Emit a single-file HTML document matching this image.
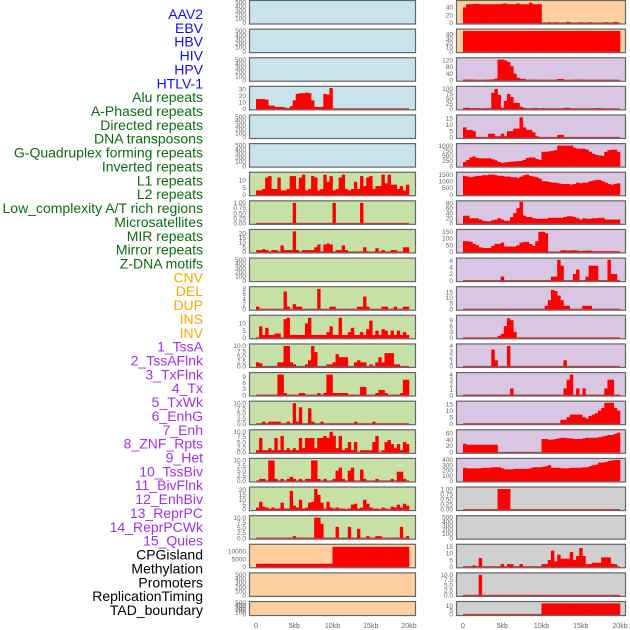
<!DOCTYPE html>
<html><head><meta charset="utf-8"><style>
html,body{margin:0;padding:0;background:#fff;width:630px;height:630px;overflow:hidden}
svg{display:block;font-family:"Liberation Sans",sans-serif}
</style></head><body>
<svg id="c" width="630" height="630"></svg>
<script>
const labels=["AAV2","EBV","HBV","HIV","HPV","HTLV-1","Alu repeats","A-Phased repeats","Directed repeats","DNA transposons","G-Quadruplex forming repeats","Inverted repeats","L1 repeats","L2 repeats","Low_complexity A/T rich regions","Microsatellites","MIR repeats","Mirror repeats","Z-DNA motifs","CNV","DEL","DUP","INS","INV","1_TssA","2_TssAFlnk","3_TxFlnk","4_Tx","5_TxWk","6_EnhG","7_Enh","8_ZNF_Rpts","9_Het","10_TssBiv","11_BivFlnk","12_EnhBiv","13_ReprPC","14_ReprPCWk","15_Quies","CPGisland","Methylation","Promoters","ReplicationTiming","TAD_boundary"];
const labelColors=["#1010ee","#1010ee","#1010ee","#1010ee","#1010ee","#1010ee","#0a6e0a","#0a6e0a","#0a6e0a","#0a6e0a","#0a6e0a","#0a6e0a","#0a6e0a","#0a6e0a","#0a6e0a","#0a6e0a","#0a6e0a","#0a6e0a","#0a6e0a","#ffa500","#ffa500","#ffa500","#ffa500","#ffa500","#a030f0","#a030f0","#a030f0","#a030f0","#a030f0","#a030f0","#a030f0","#a030f0","#a030f0","#a030f0","#a030f0","#a030f0","#a030f0","#a030f0","#a030f0","#000","#000","#000","#000","#000"];
const xTickLabels=["0","5kb","10kb","15kb","20kb"];
const xTickVals=[0,5,10,15,20];
const E=[];
const tEmpty=["0","100","200","300","400","500"];
const tDec=["0.00","0.25","0.50","0.75","1.00"];
const t25=["0.0","2.5","5.0","7.5","10.0"];
// left column
const hiv=[15,15,15,14,5,5,3,3,3,2,1,4,13,23,24,24,25,24,13,3,3,3,23,22,32];
const alu=[3,3,4,12,13,4,4,12,3,3,4,13,13,4,12,14,3,4,13,12,3,4,14,9,13,3,4,12,14,4,3,4,9,4,13,6,12,13,4,6,6,14,8,14,7,7,4,6,3,7];
const aphased=[0,0,0,0,0,0,0,0,0,0,0,0,1,0,0,0,0,0,0,0,0,0,0,0,0,1,0,0,0,0,0,0,0,0,1];
const directed=[2,2,3,2,0,2,2,0,7,2,2,2,22,2,0,2,2,2,2,5,8,0,8,9,8,0,2,2,7,2,0,0,0,0,0,5,0,0,0,4,0,2,0,0,2,2,0,0,5,5];
const gquad=[1,0,0,0,0,0,0,0,0,7,1,0,2,1,1,0,0,0,0,0,8,0,0,0,1,1,0,0,0,0,0,0,0,1,1,5,1,0,0,0,0,1,1,0,0,1,0,0,1,1];
const inverted=[0,8,2,7,2,2,3,3,0,13,14,2,2,2,2,2,10,14,2,2,2,2,2,4,8,2,2,14,2,2,4,7,2,2,4,2,6,12,2,5,2,6,5,2,5,2,5,2,4,2];
const l1=[2,1.5,0,0,0,0,0,2,2,10,10,2,1,0,0,0,1,3,10,7,0,0,0,1,1,2,6,4.5,4.5,4.5,0,0,2,3,2,2,0,1,0,2,4.5,2,6.5,6.5,6.5,1,1,0,0,0];
const l2=[0,0,0,0,0,0,0,10,10,1,0,0,0,0,1,1,0,0,0,0,1,0,1,10,10,1,1,1,1,1,0,0,0,0,4,4,0,0,0,1,2.5,2.5,1,0,0,0,0,1,7.5,7.5];
const lowc=[0,0,1,0,1,1,1,1,0,0,1,0,10,1,8,0,0,7.5,1,0,0,1,0,0,0,0,0,0,0,0,0,0,1,0,0,0,0,0,1,0,0,0,0,0,0,0,0,0,0,0];
const microsat=[1,7,1,1,2,1,7,1,8,1,2,1,2,1,7,2,7,7,7,2,7,7,8,7,10,8,2,8,1,2,5,1,5,0,1,1,1,1,5,8,0,1,5,6,4,2,4,1,5,4];
const mir=[0,1,1,0,10,10,1,0,1,0,1,2,1,0,1,0,1,1,10,10,1,0,1,0,0,1,5,6.5,1,0,5,6.5,0,0,5.5,1,0,0,0,1,0,0,0,0,1,0,4.5,4.5,1,0];
const mirror=[2,8,3,2,1,2,1,1,7,1,1,19,4,2,10,1,2,7,8,21,15,7,1,8,2,1,2,1,1,0,1,5,6,1,2,10,6,2,1,1,0,2,1,0,3,2,5,2,6,4];
const zdna=[0,0,0,0,0,0,0,0,0,0,0,0,1,0,0,0,0,0,0,10,10,7,0,0,0,0,5.5,0,0,0,5.5,0,0,4.5,0,0,1,0,0,1,1,0,0,0,0,0,0,5.5,0,1];
const cnv=[2000,2000,2000,2000,2000,2000,2000,2000,2000,2000,2000,2000,2000,2000,2000,2000,2000,2000,2000,2000,2000,2000,2000,2000,2000,13000,13000,13000,13000,13000,13000,13000,13000,13000,13000,13000,13000,13000,13000,13000,13000,13000,13000,13000,13000,13000,13000,13000,13000,13000];
// right column
const ins=[40,48,48,49,49,48,48,48,48,48,48,48,49,50,48,48,48,50,48,48,48,52,48,48,48,0,0,2,0,2,0,0,0,3,0,0,0,2,0,0,2,0,0,0,0,2,0,0,3,0];
const inv=[48,48,48,48,48,48,48,48,48,48,48,48,48,48,48,48,48,48,48,48,48,48,48,48,48,48,48,48,48,48,48,48,48,48,48,48,48,48,48,48,48,48,48,48,48,48,48,48,48,48];
const s1=[3,3,3,3,1,1,1,3,3,5,10,125,125,120,110,85,40,15,8,8,1,3,3,1,1,1,3,1,1,1,8,8,1,1,1,3,3,3,1,1];
const s2=[5,5,3,3,3,1,1,3,3,80,100,70,5,40,75,60,30,30,10,5,1,1,3,3,1,3,1,1,1,1,1,1,5,5,1,1,1,1,1,1,1,1,3,3,1];
const s3=[8,6,6,5,0,0,0,0,3,3,1,1,3,1,5,5,7,7,16,8,6,6,4,1,0,0,0,0,0,0,2,2];
const s4=[200,300,420,470,400,380,380,380,380,330,280,200,150,180,200,220,230,240,250,300,400,420,420,350,300,700,700,720,750,780,1000,1000,1000,1000,1000,900,850,850,850,800,700,600,550,520,500,700,780,800,800,700];
const s5=[1400,1350,1300,1350,1400,1400,1450,1450,1500,1500,1450,1400,1400,1350,1350,1300,1300,1250,1350,1450,1500,1400,1350,1300,1200,1000,1000,950,900,900,850,800,800,800,750,800,900,850,900,900,1000,1050,1100,1100,1000,900,800,750,800,850];
const s6=[30,30,20,20,20,15,10,8,8,12,15,20,15,10,10,25,40,60,85,30,25,25,20,18,18,18,18,22,22,22,22,22,25,28,28,25,20,15,20,18,18,20,20,22,22,15,15,15,15,15];
const s7=[80,80,75,60,50,35,30,30,30,45,60,60,70,40,40,40,40,50,70,75,75,60,45,80,150,150,140,0,0,0,0,12,12,10,12,12,10,5,8,10,10,5,5,5,5,5,5,5,5,5];
const s8=[0,0,0,0,0,0,0,0,0,0,0,0,1.2,0,0,0,0,0,0,0,0,0,0,0,0,0,0,0,1.2,1.2,6.3,4.5,0,0,0,2,3.3,0,0,1.2,4.5,4.5,4.5,0,0,0,6.3,2,2,0];
const s9=[0,0,0,0,0,0,0,0,0,0,0,0,0,0,0,0,0,0,0,0,0,0,0,0,0,0,3,8,17,16,12,8,3,3,0,0,0,0,3,3,3];
const s10=[0,0,0,0,0,0,0,0,0,0,0,1,2,6,10,9,3];
const s11=[0,0,0,0,0,0,0,0,0,3.3,1.2,0,0,0,4,0,0,0,0,0,0,0,0,0,0,0,0,0,0,0,0,0,1.2];
const s12=[0,0,0,0,0,0,0,0,0,0,0,0,0,0,0,1.3,0,0,0,0,0,0,0,0,0,0,0,0,0,0,0,0,1.3,3,4,0,1.3,0,1.3,0,0,0,0,0,0,1.3,3,3,0,0];
const s13=[0,0,0,0,0,0,0,0,0,0,0,0,0,0,0,0,0,0,0,0,0,0,0,0,0,0,0,0,0,0,0,3,3,5,7,7,7,7,5,4,6,7,8,10,12,16,16,16,12,10];
const s14=[27,24,24,24,24,24,24,24,24,24,24,0,0,0,0,0,0,0,0,0,0,0,0,0,0,42,42,40,40,42,44,46,46,44,44,42,42,42,44,46,46,46,46,48,50,52,55,55,58,62];
const s15=[250,240,240,240,240,240,250,250,250,260,260,260,240,220,220,220,230,230,230,230,230,240,260,260,260,270,280,300,250,250,250,240,240,240,250,250,250,250,260,260,280,300,310,350,350,360,380,390,400,400];
const cpg=[0,0,0,0,0,0,0,0,0,0,0,1,1,1,1];
const meth=[0,0,0,1,0,6.5,0,0,0,0,0,0,2,0,2,2,0,0,2,0,0,0,0,0,0,2,2,5,12,4,9,6,6,6,11,5,8,14,8,2,2,3,3,3,7,7,7,2,2,0];
const repl=[0,0,0,0,0,10];
const tadb=[0,0,0,0,0,0,0,0,0,0,0,0,0,0,0,0,0,0,0,0,0,0,0,0,0,13,13,13,13,13,13,13,13,13,13,13,13,13,13,13,13,13,13,13,13,13,13,13,13,13];

const leftSeries=[E,E,E,hiv,E,E,alu,aphased,directed,E,gquad,inverted,l1,l2,lowc,microsat,mir,mirror,zdna,cnv,E,E];
const leftTicks=[tEmpty,tEmpty,tEmpty,["0","10","20","30"],tEmpty,tEmpty,["0","5","10"],tDec,["0","5","10","15","20"],tEmpty,["0","2","4","6","8"],["0","5","10"],t25,["0","3","6","9"],t25,t25,t25,["0","5","10","15","20"],t25,["0","5000","10000"],tEmpty,tEmpty];
const leftMax=[520,520,520,33,520,520,15,1.05,23,520,8.5,15,10.5,10.5,10.5,10.5,10.5,22,10.5,14000,520,520];
const rightSeries=[ins,inv,s1,s2,s3,s4,s5,s6,s7,s8,s9,s10,s11,s12,s13,s14,s15,cpg,E,meth,repl,tadb];
const rightTicks=[["0","20","40"],["0","10","20","30","40"],["0","40","80","120"],["0","25","50","75","100"],["0","5","10","15"],["0","250","500","750","1000"],["0","500","1000","1500"],["0","20","40","60","80"],["0","50","100","150"],["0","2","4","6"],["0","5","10","15"],["0","3","6","9"],["0","1","2","3","4"],["0","1","2","3","4"],["0","5","10","15"],["0","20","40","60"],["0","100","200","300","400"],tDec,tEmpty,["0","5","10","15"],t25,["0","5","10"]];
const rightMax=[55,50,130,108,17,1050,1600,85,160,6.5,19,11,4.2,4.2,16.5,68,410,1.05,520,16,10.5,14];
const leftBg=["#c9e3ea","#c9e3ea","#c9e3ea","#c9e3ea","#c9e3ea","#c9e3ea","#c6e0a6","#c6e0a6","#c6e0a6","#c6e0a6","#c6e0a6","#c6e0a6","#c6e0a6","#c6e0a6","#c6e0a6","#c6e0a6","#c6e0a6","#c6e0a6","#c6e0a6","#fed0a0","#fed0a0","#fed0a0"];
const rightBg=["#fed0a0","#fed0a0","#d8c6e2","#d8c6e2","#d8c6e2","#d8c6e2","#d8c6e2","#d8c6e2","#d8c6e2","#d8c6e2","#d8c6e2","#d8c6e2","#d8c6e2","#d8c6e2","#d8c6e2","#d8c6e2","#d8c6e2","#d0d0d0","#d0d0d0","#d0d0d0","#d0d0d0","#d0d0d0"];

const NS="http://www.w3.org/2000/svg";
const svg=document.getElementById('c');
function mk(tag,attrs,parent){const e=document.createElementNS(NS,tag);for(const k in attrs)e.setAttribute(k,attrs[k]);(parent||svg).appendChild(e);return e;}

labels.forEach((t,i)=>{
  const e=mk('text',{x:203,y:14+i*13.86+5,'text-anchor':'end','font-size':'14',fill:labelColors[i]});
  e.textContent=t;
  
  
});

function panel(col,row,vals,ticks,maxV,bg){
  const px=col?456:249, pw=col?170:167;
  const x0=col?463:256, x20=col?620:409;
  const top=row*28.62, h=row===21?15:24.5;
  const sx=kb=>x0+(x20-x0)*kb/20;
  const y0=top+h-1.5, yT=top+1.5;
  const sy=v=>y0-(y0-yT)*v/maxV;
  const g=mk('g',{});
  
  
  mk('rect',{x:px+0.5,y:top+0.5,width:pw-1,height:h-1,fill:bg,stroke:'#666','stroke-width':1.2},g);
  ticks.forEach(t=>{
    const v=parseFloat(t);
    const tx=mk('text',{x:px-3,y:sy(v)+2.2,'text-anchor':'end','font-size':'6.5',fill:'#666'},g);
    tx.textContent=t;
    
    
  });
  if(vals.length){
    mk('line',{x1:sx(0),x2:sx(20),y1:y0,y2:y0,stroke:'#c04040','stroke-width':1.2},g);
    vals.forEach((v,i)=>{
      if(!v)return;
      const r=mk('rect',{x:sx(i*0.4),y:sy(v),width:sx((i+1)*0.4)-sx(i*0.4)+0.3,height:y0-sy(v),fill:'#ff0000'},g);
      
      
    });
  }
}
for(let r=0;r<22;r++){panel(0,r,leftSeries[r],leftTicks[r],leftMax[r],leftBg[r]);panel(1,r,rightSeries[r],rightTicks[r],rightMax[r],rightBg[r]);}
[0,1].forEach(col=>{
  const x0=col?463:256, x20=col?620:409;
  xTickVals.forEach((v,i)=>{
    const e=mk('text',{x:x0+(x20-x0)*v/20,y:628,'text-anchor':'middle','font-size':'7',fill:'#666'});
    e.textContent=xTickLabels[i];
    
    
  });
});
</script>
</body></html>
